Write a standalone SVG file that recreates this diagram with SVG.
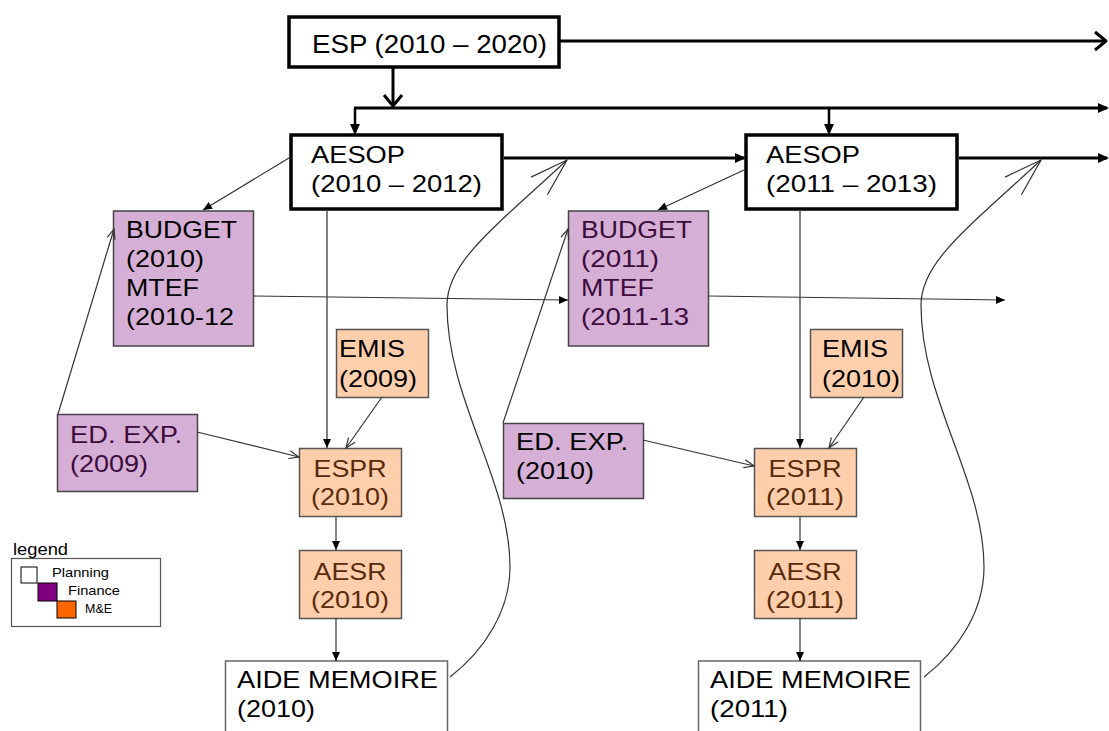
<svg xmlns="http://www.w3.org/2000/svg" width="1109" height="731" viewBox="0 0 1109 731">
<style>
text{font-family:"Liberation Sans",Arial,sans-serif;font-size:24px;fill:#000}
.plan{fill:#fff;stroke:#000;stroke-width:3.5}
.fin{fill:#D5AFD6;stroke:#444;stroke-width:1.5}
.me{fill:#FFCFAD;stroke:#555;stroke-width:1.5}
.aide{fill:#fff;stroke:#666;stroke-width:1.5}
.dp{fill:#3C0C3C}
.br{fill:#5A2A0C}
.thick{fill:none;stroke:#000;stroke-width:3}
.thin{fill:none;stroke:#333;stroke-width:1.2}
.vert{fill:none;stroke:#555;stroke-width:1.5}
.leg{font-size:13px}
</style>
<defs>
<marker id="tri" markerUnits="userSpaceOnUse" markerWidth="10" markerHeight="9" refX="9" refY="4" orient="auto" overflow="visible"><path d="M0,0 L9,4 L0,8 z" fill="#000"/></marker>
<marker id="triT" markerUnits="userSpaceOnUse" markerWidth="12" markerHeight="12" refX="9" refY="5" orient="auto" overflow="visible"><path d="M0,0 L11,5 L0,10 z" fill="#000"/></marker>
<marker id="open" markerUnits="userSpaceOnUse" markerWidth="12" markerHeight="10" refX="10" refY="4" orient="auto" overflow="visible"><path d="M0,0 L10,4 L0,8" fill="none" stroke="#333" stroke-width="1.2"/></marker>
<marker id="openT" markerUnits="userSpaceOnUse" markerWidth="14" markerHeight="20" refX="11" refY="9" orient="auto" overflow="visible"><path d="M0,0 L11,9 L0,18" fill="none" stroke="#000" stroke-width="3" stroke-linejoin="round"/></marker>
<marker id="openC" markerUnits="userSpaceOnUse" markerWidth="40" markerHeight="26" refX="38" refY="12" orient="auto" overflow="visible"><path d="M0,0 L38,12 L0,24" fill="none" stroke="#333" stroke-width="1.2"/></marker>
</defs>

<g id="esp"><rect class="plan" x="289" y="17" width="270" height="50"/><text x="312" y="53" font-size="25" style="font-size:25px" textLength="235" lengthAdjust="spacingAndGlyphs">ESP (2010 – 2020)</text></g>

<g id="aesop1"><rect class="plan" x="291" y="135" width="211" height="74"/><text x="311" y="163" textLength="94" lengthAdjust="spacingAndGlyphs">AESOP</text><text x="311" y="192" textLength="171" lengthAdjust="spacingAndGlyphs">(2010 – 2012)</text></g>
<g id="aesop2"><rect class="plan" x="746" y="135" width="211" height="74"/><text x="766" y="163" textLength="94" lengthAdjust="spacingAndGlyphs">AESOP</text><text x="766" y="192" textLength="171" lengthAdjust="spacingAndGlyphs">(2011 – 2013)</text></g>

<g id="budget1"><rect class="fin" x="113.5" y="211" width="140" height="135"/><text x="126" y="238" textLength="111" lengthAdjust="spacingAndGlyphs">BUDGET</text><text x="126" y="267" textLength="78" lengthAdjust="spacingAndGlyphs">(2010)</text><text x="126" y="296" textLength="73" lengthAdjust="spacingAndGlyphs">MTEF</text><text x="126" y="325" textLength="108" lengthAdjust="spacingAndGlyphs">(2010-12</text></g>
<g id="budget2"><rect class="fin" x="568.5" y="211" width="140" height="135"/><text class="dp" x="581" y="238" textLength="111" lengthAdjust="spacingAndGlyphs">BUDGET</text><text class="dp" x="581" y="267" textLength="78" lengthAdjust="spacingAndGlyphs">(2011)</text><text class="dp" x="581" y="296" textLength="73" lengthAdjust="spacingAndGlyphs">MTEF</text><text class="dp" x="581" y="325" textLength="108" lengthAdjust="spacingAndGlyphs">(2011-13</text></g>

<g id="emis1"><rect class="me" x="336.5" y="329.5" width="92" height="68"/><text x="339" y="357" textLength="66" lengthAdjust="spacingAndGlyphs">EMIS</text><text x="339" y="387" textLength="78" lengthAdjust="spacingAndGlyphs">(2009)</text></g>
<g id="emis2"><rect class="me" x="810.5" y="329.5" width="92" height="68"/><text x="822" y="357" textLength="66" lengthAdjust="spacingAndGlyphs">EMIS</text><text x="822" y="387" textLength="78" lengthAdjust="spacingAndGlyphs">(2010)</text></g>

<g id="edexp1"><rect class="fin" x="57.5" y="414.5" width="140" height="77"/><text class="dp" x="70" y="443" textLength="112" lengthAdjust="spacingAndGlyphs">ED. EXP.</text><text class="dp" x="70" y="472" textLength="78" lengthAdjust="spacingAndGlyphs">(2009)</text></g>
<g id="edexp2"><rect class="fin" x="503.5" y="423.5" width="140" height="75"/><text x="516" y="450" textLength="112" lengthAdjust="spacingAndGlyphs">ED. EXP.</text><text x="516" y="479" textLength="78" lengthAdjust="spacingAndGlyphs">(2010)</text></g>

<g id="espr1"><rect class="me" x="299.5" y="448.5" width="102" height="68"/><text class="br" x="350" y="477" text-anchor="middle" textLength="73" lengthAdjust="spacingAndGlyphs">ESPR</text><text class="br" x="350" y="505" text-anchor="middle" textLength="78" lengthAdjust="spacingAndGlyphs">(2010)</text></g>
<g id="espr2"><rect class="me" x="754.5" y="448.5" width="102" height="68"/><text class="br" x="805" y="477" text-anchor="middle" textLength="73" lengthAdjust="spacingAndGlyphs">ESPR</text><text class="br" x="805" y="505" text-anchor="middle" textLength="78" lengthAdjust="spacingAndGlyphs">(2011)</text></g>

<g id="aesr1"><rect class="me" x="299.5" y="550.5" width="102" height="68"/><text class="br" x="350" y="580" text-anchor="middle" textLength="73" lengthAdjust="spacingAndGlyphs">AESR</text><text class="br" x="350" y="608" text-anchor="middle" textLength="78" lengthAdjust="spacingAndGlyphs">(2010)</text></g>
<g id="aesr2"><rect class="me" x="754.5" y="550.5" width="102" height="68"/><text class="br" x="805" y="580" text-anchor="middle" textLength="73" lengthAdjust="spacingAndGlyphs">AESR</text><text class="br" x="805" y="608" text-anchor="middle" textLength="78" lengthAdjust="spacingAndGlyphs">(2011)</text></g>

<g id="aide1"><rect class="aide" x="225.5" y="661" width="222" height="90"/><text x="237" y="688" textLength="201" lengthAdjust="spacingAndGlyphs">AIDE MEMOIRE</text><text x="237" y="717" textLength="78" lengthAdjust="spacingAndGlyphs">(2010)</text></g>
<g id="aide2"><rect class="aide" x="698.5" y="661" width="222" height="90"/><text x="710" y="688" textLength="201" lengthAdjust="spacingAndGlyphs">AIDE MEMOIRE</text><text x="710" y="717" textLength="78" lengthAdjust="spacingAndGlyphs">(2011)</text></g>

<g id="legend">
<text x="13" y="555" style="font-size:16px" textLength="55" lengthAdjust="spacingAndGlyphs">legend</text>
<rect x="11.5" y="558.5" width="149" height="68" fill="#fff" stroke="#555" stroke-width="1.2"/>
<rect x="21" y="567" width="16" height="16" fill="#fff" stroke="#000" stroke-width="1"/>
<rect x="38" y="583" width="19" height="18" fill="#800080" stroke="#000" stroke-width="1"/>
<rect x="57" y="601" width="19" height="17" fill="#FF6600" stroke="#000" stroke-width="1"/>
<text class="leg" x="52" y="577" textLength="57" lengthAdjust="spacingAndGlyphs">Planning</text>
<text class="leg" x="68" y="595" textLength="52" lengthAdjust="spacingAndGlyphs">Finance</text>
<text class="leg" x="85" y="613" textLength="27" lengthAdjust="spacingAndGlyphs">M&amp;E</text>
</g>

<g id="connectors">
<path class="thick" d="M559,41 L1106,41" marker-end="url(#openT)"/>
<path class="thick" d="M393,68 L393,106" marker-end="url(#openT)"/>
<path class="thick" d="M354,108 L1107,108" marker-end="url(#triT)"/>
<path class="thick" style="stroke-width:2.5" d="M355,108 L355,133" marker-end="url(#triT)"/>
<path class="thick" style="stroke-width:2.5" d="M829,108 L829,133" marker-end="url(#triT)"/>
<path class="thick" d="M504,158 L744,158" marker-end="url(#triT)"/>
<path class="thick" d="M959,158 L1107,158" marker-end="url(#triT)"/>
<path class="thin" d="M289,158 L203,210" marker-end="url(#tri)"/>
<path class="thin" d="M744,170 L658,210" marker-end="url(#tri)"/>
<path class="thin" d="M253,296 L568,300" marker-end="url(#tri)"/>
<path class="thin" d="M708,296 L1005,300" marker-end="url(#tri)"/>
<path class="vert" d="M327,210 L327,448" marker-end="url(#tri)"/>
<path class="vert" d="M800,210 L800,448" marker-end="url(#tri)"/>
<path class="thin" d="M382,397 L346,448" marker-end="url(#open)"/>
<path class="thin" d="M864,397 L829,448" marker-end="url(#open)"/>
<path class="thin" d="M197,432 L299,457" marker-end="url(#open)"/>
<path class="thin" d="M643,440 L754,466" marker-end="url(#open)"/>
<path class="thin" d="M58,414 L114,229" marker-end="url(#open)"/>
<path class="thin" d="M503,423 L568,229" marker-end="url(#open)"/>
<path class="thin" d="M336,517 L336,550" marker-end="url(#tri)"/>
<path class="thin" d="M336,618 L336,661" marker-end="url(#tri)"/>
<path class="thin" d="M800,517 L800,550" marker-end="url(#tri)"/>
<path class="thin" d="M800,618 L800,661" marker-end="url(#tri)"/>
<path class="thin" d="M450,677 C485,650 510,610 510,567 C510,480 447,400 447,305 C447,262 494,228 567,160" marker-end="url(#openC)"/>
<path class="thin" d="M924,677 C959,650 984,610 984,567 C984,480 921,400 921,305 C921,262 968,228 1041,160" marker-end="url(#openC)"/>
</g>
</svg>
